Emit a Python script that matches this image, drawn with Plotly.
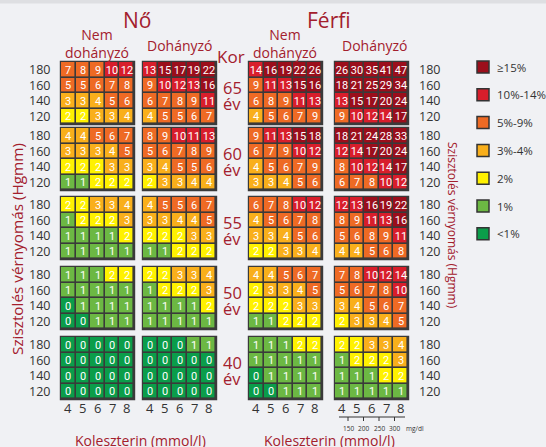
import plotly.graph_objects as go

# ---------------- data ----------------
cholesterol = [4, 5, 6, 7, 8]                 # mmol/l (columns)
systolic = [180, 160, 140, 120]               # Hgmm (rows, top to bottom)
ages = ["65", "60", "55", "50", "40"]         # age bands, top to bottom
mgdl_ticks = [150, 200, 250, 300]

risk_labels = ["≥15%", "10%-14%", "5%-9%", "3%-4%", "2%", "1%", "<1%"]
risk_colors = ["#9B0E1B", "#D81E2B", "#EE6A24", "#F9AF1B", "#FFF100", "#6CB843", "#0B9D4A"]

women_nonsmoker = [
    [[7, 8, 9, 10, 12], [5, 5, 6, 7, 8], [3, 3, 4, 5, 6], [2, 2, 3, 3, 4]],
    [[4, 4, 5, 6, 7], [3, 3, 3, 4, 5], [2, 2, 2, 3, 3], [1, 1, 2, 2, 2]],
    [[2, 2, 3, 3, 4], [1, 2, 2, 2, 3], [1, 1, 1, 1, 2], [1, 1, 1, 1, 1]],
    [[1, 1, 1, 2, 2], [1, 1, 1, 1, 1], [0, 1, 1, 1, 1], [0, 0, 1, 1, 1]],
    [[0, 0, 0, 0, 0], [0, 0, 0, 0, 0], [0, 0, 0, 0, 0], [0, 0, 0, 0, 0]],
]
women_smoker = [
    [[13, 15, 17, 19, 22], [9, 10, 12, 13, 16], [6, 7, 8, 9, 11], [4, 5, 5, 6, 7]],
    [[8, 9, 10, 11, 13], [5, 6, 7, 8, 9], [3, 4, 5, 5, 6], [2, 3, 3, 4, 4]],
    [[4, 5, 5, 6, 7], [3, 3, 4, 4, 5], [2, 2, 2, 3, 3], [1, 1, 2, 2, 2]],
    [[2, 2, 3, 3, 4], [1, 2, 2, 2, 3], [1, 1, 1, 1, 2], [1, 1, 1, 1, 1]],
    [[0, 0, 0, 1, 1], [0, 0, 0, 0, 0], [0, 0, 0, 0, 0], [0, 0, 0, 0, 0]],
]
men_nonsmoker = [
    [[14, 16, 19, 22, 26], [9, 11, 13, 15, 16], [6, 8, 9, 11, 13], [4, 5, 6, 7, 9]],
    [[9, 11, 13, 15, 18], [6, 7, 9, 10, 12], [4, 5, 6, 7, 9], [3, 3, 4, 5, 6]],
    [[6, 7, 8, 10, 12], [4, 5, 6, 7, 8], [3, 3, 4, 5, 6], [2, 2, 3, 3, 4]],
    [[4, 4, 5, 6, 7], [2, 3, 3, 4, 5], [2, 2, 2, 3, 3], [1, 1, 2, 2, 2]],
    [[1, 1, 1, 2, 2], [1, 1, 1, 1, 1], [0, 1, 1, 1, 1], [0, 0, 1, 1, 1]],
]
men_smoker = [
    [[26, 30, 35, 41, 47], [18, 21, 25, 29, 34], [13, 15, 17, 20, 24], [9, 10, 12, 14, 17]],
    [[18, 21, 24, 28, 33], [12, 14, 17, 20, 24], [8, 10, 12, 14, 17], [6, 7, 8, 10, 12]],
    [[12, 13, 16, 19, 22], [8, 9, 11, 13, 16], [5, 6, 8, 9, 11], [4, 4, 5, 6, 8]],
    [[7, 8, 10, 12, 14], [5, 6, 7, 8, 10], [3, 4, 5, 6, 7], [2, 3, 3, 4, 5]],
    [[2, 2, 3, 3, 4], [1, 2, 2, 2, 3], [1, 1, 1, 2, 2], [1, 1, 1, 1, 1]],
]

# ---------------- layout constants (pixels) ----------------
W, H = 546, 447
BG = "#F0F1F4"
DARKRED = "#A3202D"
GRAY = "#3a3a3a"
FONT = "Open Sans"
GRID_X = [61, 143, 249, 335]        # left edges of the four column groups
GRID_Y = [62, 128, 197, 267, 337]   # top edges of the age bands
CELL_W, CELL_H = 14.6, 15.5
GRID_W, GRID_H = CELL_W * 5, CELL_H * 4


def risk_class(v):
    if v >= 15:
        return 0
    if v >= 10:
        return 1
    if v >= 5:
        return 2
    if v >= 3:
        return 3
    if v == 2:
        return 4
    if v == 1:
        return 5
    return 6


n = len(risk_colors)
colorscale = []
for i, c in enumerate(risk_colors):
    colorscale.append([i / n, c])
    colorscale.append([(i + 1) / n, c])

fig = go.Figure()
shapes = []
annotations = []


def font(size, color=DARKRED, family=FONT):
    return dict(size=size, color=color, family=family)


groups = [women_nonsmoker, women_smoker, men_nonsmoker, men_smoker]
for gi, group in enumerate(groups):
    gx = GRID_X[gi]
    for ai, mat in enumerate(group):
        gy = GRID_Y[ai]
        shapes.append(dict(type="rect", layer="below", xref="x", yref="y",
                           x0=gx - 1.2, x1=gx + GRID_W + 1.2,
                           y0=gy - 1.2, y1=gy + GRID_H + 1.2,
                           fillcolor=GRAY, line=dict(width=0)))
        z = [[risk_class(v) for v in row] for row in mat]
        txt = [[str(v) for v in row] for row in mat]
        fig.add_trace(go.Heatmap(
            z=z, text=txt, texttemplate="%{text}",
            textfont=dict(color="white", size=11, family="Roboto"),
            x0=gx + CELL_W / 2, dx=CELL_W,
            y0=gy + CELL_H / 2, dy=CELL_H,
            colorscale=colorscale, zmin=-0.5, zmax=n - 0.5,
            showscale=False, xgap=1.6, ygap=1.6, hoverinfo="skip"))

# systolic tick labels (left of women, right of men)
for ai in range(len(ages)):
    for ri, s in enumerate(systolic):
        yc = GRID_Y[ai] + CELL_H * (ri + 0.5)
        annotations.append(dict(x=52, y=yc, text=str(s), showarrow=False, xanchor="right",
                                font=font(12.5, "#333")))
        annotations.append(dict(x=417, y=yc, text=str(s), showarrow=False, xanchor="left",
                                font=font(12.5, "#333")))
    # age labels
    gc = GRID_Y[ai] + GRID_H / 2
    annotations.append(dict(x=232, y=gc - 6, text=ages[ai], showarrow=False,
                            font=font(16.5), borderpad=0))
    annotations.append(dict(x=232, y=gc + 10, text="év", showarrow=False,
                            font=font(16.5), borderpad=0))

# cholesterol tick labels
for gi in range(4):
    for ci, c in enumerate(cholesterol):
        annotations.append(dict(x=GRID_X[gi] + CELL_W * (ci + 0.5), y=408, text=str(c),
                                showarrow=False, font=font(13, "#333")))

# headers
annotations += [
    dict(x=137, y=20, text="Nő", showarrow=False, font=font(21)),
    dict(x=329, y=20, text="Férfi", showarrow=False, font=font(21)),
    dict(x=97, y=43, text="Nem<br>dohányzó", showarrow=False, font=font(14)),
    dict(x=180, y=45, text="Dohányzó", showarrow=False, font=font(14)),
    dict(x=285, y=43, text="Nem<br>dohányzó", showarrow=False, font=font(14)),
    dict(x=375, y=45, text="Dohányzó", showarrow=False, font=font(14)),
    dict(x=231, y=56, text="Kor", showarrow=False, font=font(17)),
    dict(x=17, y=249, text="Szisztolés vérnyomás (Hgmm)", textangle=-90, showarrow=False,
         font=font(15.3)),
    dict(x=453, y=225, text="Szisztolés vérnyomás (Hgmm)", textangle=90, showarrow=False,
         font=font(12)),
    dict(x=140, y=440, text="Koleszterin (mmol/l)", showarrow=False, font=font(14)),
    dict(x=329, y=440, text="Koleszterin (mmol/l)", showarrow=False, font=font(14)),
]

# mg/dl small scale below men smoker grid
shapes.append(dict(type="line", xref="x", yref="y", x0=339, x1=405, y0=417, y1=417,
                   line=dict(color="#333", width=1)))
for ti, t in enumerate(mgdl_ticks):
    tx = 348 + ti * 15.5
    shapes.append(dict(type="line", xref="x", yref="y", x0=tx, x1=tx, y0=417, y1=421,
                       line=dict(color="#333", width=1)))
    annotations.append(dict(x=tx, y=428, text=str(t), showarrow=False, borderpad=0,
                            font=font(6.5, "#333")))
annotations.append(dict(x=405, y=428, text="mg/dl", showarrow=False, xanchor="left",
                        borderpad=0, font=font(6.5, "#333")))

# legend
LEG_X, LEG_Y0, LEG_DY = 483, 67, 27.8
fig.add_trace(go.Scatter(
    x=[LEG_X] * n, y=[LEG_Y0 + i * LEG_DY for i in range(n)],
    mode="markers",
    marker=dict(symbol="square", size=12, color=risk_colors, line=dict(color="#333", width=1.5)),
    hoverinfo="skip", showlegend=False))
for i, lab in enumerate(risk_labels):
    annotations.append(dict(x=495, y=LEG_Y0 + i * LEG_DY, text=lab, showarrow=False,
                            xanchor="left", font=font(11.5, "#333")))

# top border strip
shapes.append(dict(type="rect", xref="paper", yref="y", x0=0, x1=1, y0=0, y1=3.5,
                   fillcolor="#DEDFE2", line=dict(width=0), layer="below"))

fig.update_layout(
    width=W, height=H, margin=dict(l=0, r=0, t=0, b=0),
    paper_bgcolor=BG, plot_bgcolor=BG,
    xaxis=dict(range=[0, W], visible=False, fixedrange=True),
    yaxis=dict(range=[H, 0], visible=False, fixedrange=True),
    shapes=shapes, annotations=annotations, showlegend=False,
)

fig.write_html(
    "out.html",
    config={"displayModeBar": False},
    post_script="document.body.style.margin='0';document.body.style.background='#F0F1F4';",
)
